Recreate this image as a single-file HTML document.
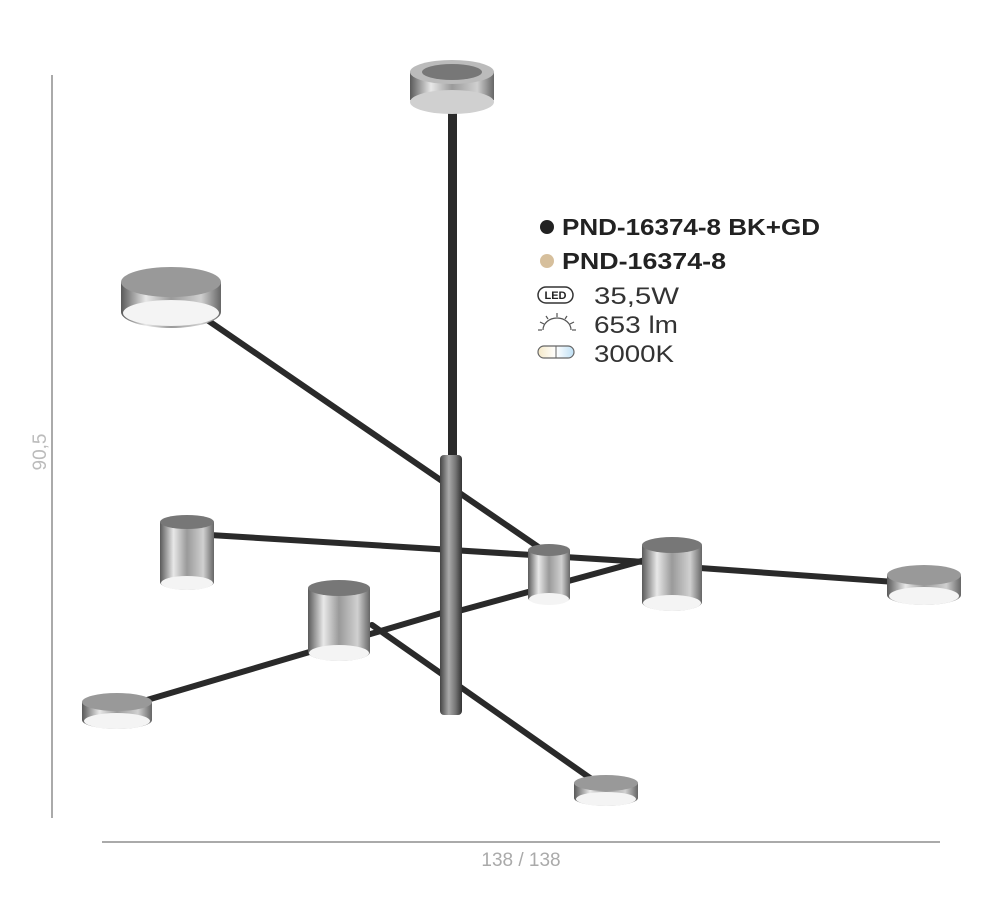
<!DOCTYPE html>
<html><head><meta charset="utf-8"><style>
html,body{margin:0;padding:0;background:#fff;width:1000px;height:900px;overflow:hidden}
svg{display:block}
</style></head><body>
<svg width="1000" height="900" viewBox="0 0 1000 900" xmlns="http://www.w3.org/2000/svg">
<defs>
<linearGradient id="m" x1="0" x2="1" y1="0" y2="0">
<stop offset="0" stop-color="#5a5a5a"/><stop offset="0.25" stop-color="#e8e8e8"/><stop offset="0.5" stop-color="#9a9a9a"/><stop offset="0.8" stop-color="#d0d0d0"/><stop offset="1" stop-color="#666"/>
</linearGradient>
<linearGradient id="c" x1="0" x2="1"><stop offset="0" stop-color="#444"/><stop offset="0.4" stop-color="#aaa"/><stop offset="0.7" stop-color="#777"/><stop offset="1" stop-color="#333"/></linearGradient>
<linearGradient id="k" x1="0" x2="1"><stop offset="0" stop-color="#f5e9c8"/><stop offset="0.5" stop-color="#fff"/><stop offset="1" stop-color="#bfe0f5"/></linearGradient>
</defs>
<line x1="52" y1="75" x2="52" y2="818" stroke="#aaa" stroke-width="2"/>
<text x="46" y="452" transform="rotate(-90 46 452)" text-anchor="middle" font-family="Liberation Sans, sans-serif" font-size="19" fill="#bbb">90,5</text>
<line x1="102" y1="842" x2="940" y2="842" stroke="#aaa" stroke-width="2"/>
<text x="521" y="866" text-anchor="middle" font-family="Liberation Sans, sans-serif" font-size="19" fill="#aaa">138 / 138</text>
<rect x="448" y="100" width="9" height="360" fill="#2a2a2a"/>
<path d="M410 72 L410 100 Q452 125 494 100 L494 72 Z" fill="url(#m)"/>
<ellipse cx="452" cy="72" rx="42" ry="12" fill="#bbb"/>
<ellipse cx="452" cy="72" rx="30" ry="8" fill="#777"/>
<ellipse cx="452" cy="102" rx="42" ry="12" fill="#d0d0d0"/>
<g stroke="#2a2a2a" stroke-width="6" stroke-linecap="round">
<line x1="200" y1="315" x2="550" y2="555"/>
<line x1="210" y1="535" x2="645" y2="562"/>
<line x1="455" y1="612" x2="645" y2="560"/>
<line x1="700" y1="568" x2="895" y2="582"/>
<line x1="130" y1="705" x2="445" y2="612"/>
<line x1="372" y1="625" x2="600" y2="785"/>
</g>
<rect x="440" y="455" width="22" height="260" rx="4" fill="url(#c)"/>
<g>
<path d="M121 282 L121 312 A50 16 0 0 0 221 312 L221 282 Z" fill="url(#m)"/>
<ellipse cx="171" cy="282" rx="50" ry="15" fill="#999"/>
<ellipse cx="171" cy="313" rx="48" ry="13" fill="#f4f4f4"/>
<path d="M160 522 L160 582 A27 8 0 0 0 214 582 L214 522 Z" fill="url(#m)"/>
<ellipse cx="187" cy="522" rx="27" ry="7" fill="#777"/>
<ellipse cx="187" cy="583" rx="26" ry="7" fill="#f4f4f4"/>
<path d="M528 550 L528 598 A21 6 0 0 0 570 598 L570 550 Z" fill="url(#m)"/>
<ellipse cx="549" cy="550" rx="21" ry="6" fill="#777"/>
<ellipse cx="549" cy="599" rx="20" ry="6" fill="#f4f4f4"/>
<path d="M642 545 L642 602 A30 9 0 0 0 702 602 L702 545 Z" fill="url(#m)"/>
<ellipse cx="672" cy="545" rx="30" ry="8" fill="#777"/>
<ellipse cx="672" cy="603" rx="29" ry="8" fill="#f4f4f4"/>
<path d="M887 575 L887 595 A37 10 0 0 0 961 595 L961 575 Z" fill="url(#m)"/>
<ellipse cx="924" cy="575" rx="37" ry="10" fill="#999"/>
<ellipse cx="924" cy="596" rx="35" ry="9" fill="#f4f4f4"/>
<path d="M308 588 L308 652 A31 9 0 0 0 370 652 L370 588 Z" fill="url(#m)"/>
<ellipse cx="339" cy="588" rx="31" ry="8" fill="#777"/>
<ellipse cx="339" cy="653" rx="30" ry="8" fill="#f4f4f4"/>
<path d="M82 702 L82 720 A35 9 0 0 0 152 720 L152 702 Z" fill="url(#m)"/>
<ellipse cx="117" cy="702" rx="35" ry="9" fill="#999"/>
<ellipse cx="117" cy="721" rx="33" ry="8" fill="#f4f4f4"/>
<path d="M574 783 L574 798 A32 8 0 0 0 638 798 L638 783 Z" fill="url(#m)"/>
<ellipse cx="606" cy="783" rx="32" ry="8" fill="#999"/>
<ellipse cx="606" cy="799" rx="30" ry="7" fill="#f4f4f4"/>
</g>
<g font-family="Liberation Sans, sans-serif">
<circle cx="547" cy="227" r="7" fill="#222"/>
<text x="562" y="235" font-size="23" font-weight="bold" fill="#222" textLength="258" lengthAdjust="spacingAndGlyphs">PND-16374-8 BK+GD</text>
<circle cx="547" cy="261" r="7" fill="#d6bf9c"/>
<text x="562" y="269" font-size="23" font-weight="bold" fill="#222" textLength="164" lengthAdjust="spacingAndGlyphs">PND-16374-8</text>
<rect x="538" y="287" width="35" height="16" rx="8" fill="#fff" stroke="#333" stroke-width="1.5"/>
<text x="555.5" y="299" text-anchor="middle" font-size="11" font-weight="bold" fill="#222">LED</text>
<text x="594" y="304" font-size="24" fill="#333" textLength="85" lengthAdjust="spacingAndGlyphs">35,5W</text>
<path d="M543 330 A14 12 0 0 1 571 330" fill="none" stroke="#555" stroke-width="1.2"/>
<g stroke="#555" stroke-width="1.2"><line x1="538" y1="330" x2="542" y2="330"/><line x1="540" y1="322" x2="544" y2="324"/><line x1="546" y1="316" x2="548" y2="319"/><line x1="557" y1="313" x2="557" y2="317"/><line x1="567" y1="316" x2="565" y2="319"/><line x1="574" y1="322" x2="570" y2="324"/><line x1="576" y1="330" x2="572" y2="330"/></g>
<text x="594" y="333" font-size="24" fill="#333" textLength="84" lengthAdjust="spacingAndGlyphs">653 lm</text>
<rect x="538" y="346" width="36" height="12" rx="6" fill="url(#k)" stroke="#666" stroke-width="1.2"/>
<line x1="556" y1="346" x2="556" y2="358" stroke="#666"/>
<text x="594" y="362" font-size="24" fill="#333" textLength="80" lengthAdjust="spacingAndGlyphs">3000K</text>
</g>
</svg>
</body></html>
